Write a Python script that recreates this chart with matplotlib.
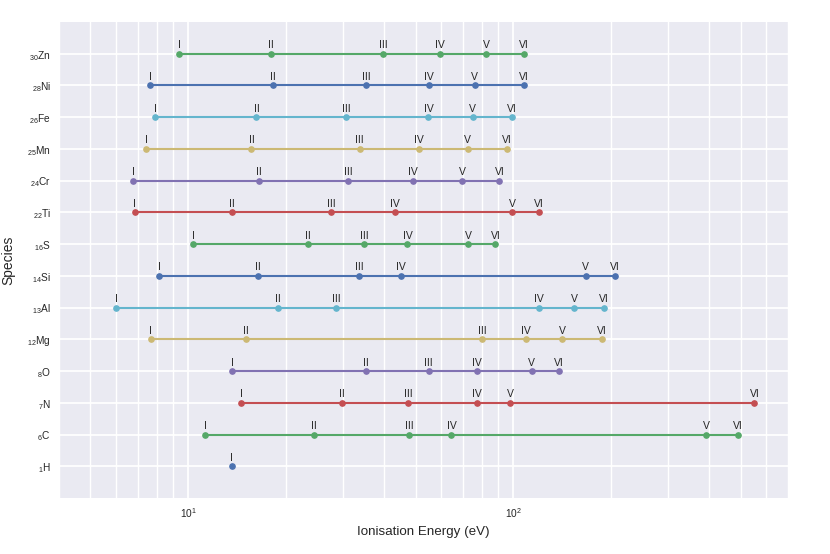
import matplotlib
matplotlib.use("Agg")
import matplotlib.pyplot as plt
from matplotlib.ticker import LogLocator, NullFormatter

# species, bottom to top, with atomic numbers
species = ["H", "C", "N", "O", "Mg", "Al", "Si", "S", "Ti", "Cr", "Mn", "Fe", "Ni", "Zn"]
atomic_numbers = [1, 6, 7, 8, 12, 13, 14, 16, 22, 24, 25, 26, 28, 30]
stages = ["I", "II", "III", "IV", "V", "VI"]

# ionisation energies in eV (stages I..VI)
ie_H = [13.60]
ie_C = [11.26, 24.38, 47.89, 64.49, 392.09, 489.99]
ie_N = [14.53, 29.60, 47.45, 77.47, 97.89, 552.07]
ie_O = [13.62, 35.12, 54.94, 77.41, 113.90, 138.12]
ie_Mg = [7.65, 15.04, 80.14, 109.27, 141.27, 186.76]
ie_Al = [5.99, 18.83, 28.45, 119.99, 153.83, 190.49]
ie_Si = [8.15, 16.35, 33.49, 45.14, 166.77, 205.27]
ie_S = [10.36, 23.34, 34.79, 47.22, 72.59, 88.05]
ie_Ti = [6.83, 13.58, 27.49, 43.27, 99.30, 119.53]
ie_Cr = [6.77, 16.49, 30.96, 49.16, 69.46, 90.64]
ie_Mn = [7.43, 15.64, 33.67, 51.20, 72.40, 95.60]
ie_Fe = [7.90, 16.20, 30.65, 54.80, 75.00, 99.10]
ie_Ni = [7.64, 18.17, 35.19, 54.90, 76.06, 108.0]
ie_Zn = [9.39, 17.96, 39.72, 59.40, 82.60, 108.0]

energies = [ie_H, ie_C, ie_N, ie_O, ie_Mg, ie_Al, ie_Si, ie_S,
            ie_Ti, ie_Cr, ie_Mn, ie_Fe, ie_Ni, ie_Zn]

palette = ["#4C72B0", "#55A868", "#C44E52", "#8172B2", "#CCB974", "#64B5CD"]
text_col = "#262626"

plt.rcParams["font.family"] = ["Liberation Sans", "DejaVu Sans"]
plt.rcParams["mathtext.default"] = "regular"

fig = plt.figure(figsize=(8.3, 5.54), dpi=100)
ax = fig.add_axes([59 / 830, 1 - 498 / 554, (788 - 59) / 830, (498 - 22) / 554])
ax.set_facecolor("#EAEAF2")
for s in ax.spines.values():
    s.set_visible(False)

for i, (el, e) in enumerate(zip(species, energies)):
    c = palette[i % len(palette)]
    y = [i] * len(e)
    ax.plot(e, y, "-o", color=c, lw=1.5, ms=3.8, zorder=3)
    for st, val in zip(stages, e):
        ax.annotate(st, (val, i), xytext=(0, 4), textcoords="offset points",
                    ha="center", va="baseline", fontsize=7.5, color=text_col)

ax.set_xscale("log")
ax.set_xlim(4, 700)
ax.set_ylim(-1, 14)
ax.xaxis.set_minor_locator(LogLocator(base=10, subs=range(2, 10)))
ax.xaxis.set_minor_formatter(NullFormatter())

ax.set_yticks(range(len(species)))
ax.set_yticklabels([r"$_{%d}$%s" % (z, el) for z, el in zip(atomic_numbers, species)])

ax.grid(True, which="major", color="white", lw=1.3, zorder=0)
ax.grid(True, which="minor", axis="x", color="white", lw=1.0, zorder=0)
ax.set_axisbelow(True)
ax.tick_params(axis="both", which="both", length=0, labelsize=7.3, colors=text_col, pad=6)

ax.set_xlabel("Ionisation Energy (eV)", fontsize=9.6, color=text_col, labelpad=4)
ax.set_ylabel("Species", fontsize=10, color=text_col, labelpad=8)

fig.savefig("out.png", dpi=100)
